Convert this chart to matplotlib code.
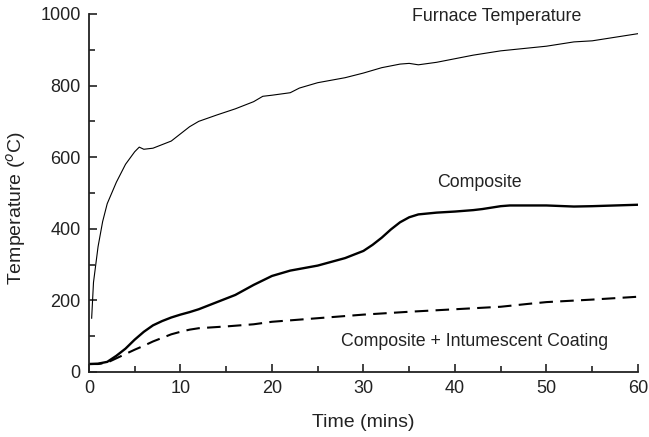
import matplotlib.pyplot as plt
from matplotlib.ticker import MultipleLocator

plt.rcParams['font.family'] = ['Liberation Sans', 'DejaVu Sans']

t_furnace = [0.3, 0.5, 1, 1.5, 2, 3, 4, 5, 5.5, 6, 7, 8, 9, 10, 11, 12, 14, 16, 18, 19,
             20, 22, 23, 25, 28, 30, 32, 34, 35, 36, 38, 40, 42, 45, 50, 53, 55, 60]
furnace = [150, 250, 350, 420, 470, 530, 580, 615, 628, 622, 625, 635, 645, 665, 685, 700,
           718, 735, 755, 770, 773, 780, 793, 808, 822, 835, 850, 860, 862, 858, 865, 875,
           885, 897, 910, 922, 925, 945]

t_comp = [0, 1, 2, 3, 4, 5, 6, 7, 8, 9, 10, 11, 12, 14, 16, 18, 20, 22, 25, 28, 30, 31,
          32, 33, 34, 35, 36, 38, 40, 42, 43, 45, 46, 50, 53, 55, 60]
comp = [22, 23, 28, 45, 65, 90, 112, 130, 142, 152, 160, 167, 175, 195, 215, 243, 268,
        283, 297, 318, 338, 355, 375, 398, 418, 432, 440, 445, 448, 452, 455, 463, 465,
        465, 462, 463, 467]

t_coat = [0, 1, 2, 3, 4, 5, 6, 7, 8, 9, 10, 11, 12, 15, 18, 20, 25, 30, 35, 40, 45, 48,
          50, 55, 60]
coat = [22, 22, 26, 38, 50, 62, 73, 85, 95, 105, 112, 118, 122, 127, 133, 140, 150, 160,
        168, 175, 182, 190, 195, 202, 210]

fig = plt.figure(figsize=(6.49, 4.37), dpi=100)
ax = fig.add_axes([0.137, 0.149, 0.846, 0.819])

ax.plot(t_furnace, furnace, c='black', lw=0.8)
ax.plot(t_comp, comp, c='black', lw=1.7)
ax.plot(t_coat, coat, c='black', lw=1.5, ls=(0, (6.5, 3.5)))

ax.text(44.6, 992, 'Furnace Temperature', fontsize=12.8, ha='center', va='center', color='#222222')
ax.text(42.7, 528, 'Composite', fontsize=12.8, ha='center', va='center', color='#222222')
ax.text(42.1, 84, 'Composite + Intumescent Coating', fontsize=12.8, ha='center', va='center',
        color='#222222')

ax.set_xlim(0, 60)
ax.set_ylim(0, 1000)
ax.xaxis.set_major_locator(MultipleLocator(10))
ax.xaxis.set_minor_locator(MultipleLocator(5))
ax.yaxis.set_major_locator(MultipleLocator(200))
ax.yaxis.set_minor_locator(MultipleLocator(100))
ax.tick_params(which='both', direction='in', labelsize=13, width=1.2, colors='#222222')
ax.tick_params(which='major', length=6, pad=6)
ax.tick_params(which='minor', length=4)
for s in ['top', 'right']:
    ax.spines[s].set_visible(False)
for s in ['left', 'bottom']:
    ax.spines[s].set_linewidth(1.3)
    ax.spines[s].set_color('#222222')

ax.set_xlabel('Time (mins)', fontsize=14, color='#222222')
ax.set_ylabel('Temperature ($^{o}$C)', fontsize=14, color='#222222')
ax.xaxis.set_label_coords(0.5, -0.117)
ax.yaxis.set_label_coords(-0.111, 0.458)

fig.savefig('out.png', dpi=100)
